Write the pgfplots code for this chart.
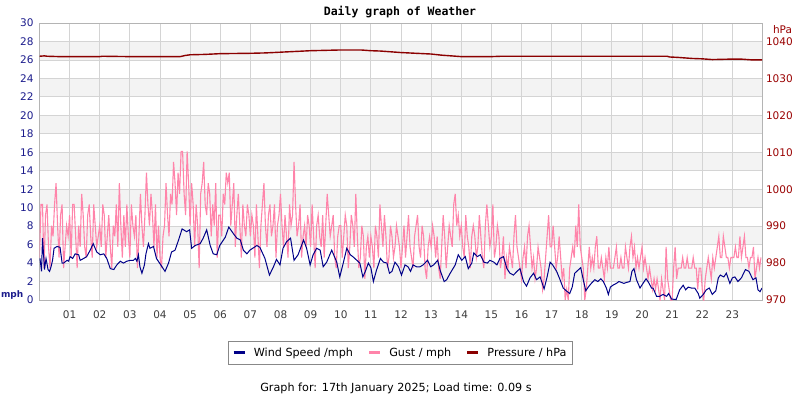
\documentclass[border=0pt]{standalone}
\usepackage{fontspec}
\setmainfont{DejaVu Sans}
\setmonofont{DejaVu Sans Mono}
\usepackage{pgfplots}
\pgfplotsset{compat=1.18}

\definecolor{windc}{HTML}{000088}
\definecolor{gustc}{HTML}{FF84AA}
\definecolor{presc}{HTML}{8B0000}
\definecolor{gridc}{HTML}{D4D4D4}
\definecolor{bandc}{HTML}{F3F3F3}
\definecolor{leftlab}{HTML}{1C1C8C}
\definecolor{rightlab}{HTML}{990000}
\definecolor{xlab}{HTML}{3C3C3C}
\definecolor{legbox}{HTML}{888888}

\newcommand{\ticksize}{\fontsize{10.5bp}{12bp}\selectfont}
\newcommand{\textsize}{\fontsize{11.2bp}{13bp}\selectfont}
\pgfplotsset{
  frame/.style={at={(39.5bp,-300bp)}, anchor=south west,
    scale only axis, width=723bp, height=277bp, xmin=0, xmax=1440},
}

\begin{document}
\begin{tikzpicture}
\path[use as bounding box] (0,0) rectangle (800bp,-400bp);

% grey bands, drawn first so that the grid lies over them
\begin{axis}[frame, ymin=0, ymax=30, hide axis]
\addplot[fill=bandc, draw=none] coordinates {(0,2)(1440,2)(1440,4)(0,4)} -- cycle;
\addplot[fill=bandc, draw=none] coordinates {(0,6)(1440,6)(1440,8)(0,8)} -- cycle;
\addplot[fill=bandc, draw=none] coordinates {(0,10)(1440,10)(1440,12)(0,12)} -- cycle;
\addplot[fill=bandc, draw=none] coordinates {(0,14)(1440,14)(1440,16)(0,16)} -- cycle;
\addplot[fill=bandc, draw=none] coordinates {(0,18)(1440,18)(1440,20)(0,20)} -- cycle;
\addplot[fill=bandc, draw=none] coordinates {(0,22)(1440,22)(1440,24)(0,24)} -- cycle;
\addplot[fill=bandc, draw=none] coordinates {(0,26)(1440,26)(1440,28)(0,28)} -- cycle;
\end{axis}

% left axis: wind and gust, in minutes of the day
\begin{axis}[
  frame, ymin=0, ymax=30,
  xtick={60,120,180,240,300,360,420,480,540,600,660,720,780,840,900,960,1020,1080,1140,1200,1260,1320,1380},
  xticklabels={01,02,03,04,05,06,07,08,09,10,11,12,13,14,15,16,17,18,19,20,21,22,23},
  ytick={0,2,...,30},
  grid=major, major grid style={gridc, line width=0.8bp},
  major tick length=0pt,
  axis line style={draw=gridc!85!black, line width=0.8bp},
  tick label style={font=\ticksize},
  yticklabel style={text=leftlab, xshift=-2.5bp},
  xticklabel style={text=xlab, yshift=-7.5bp},
  /pgf/number format/assume math mode=true,
]
% gust, every 3 minutes (steps of one knot)
\addplot[gustc, line width=1.1bp] coordinates {
(0,4.6)(3,10.35)(6,10.35)(9,3.45)(12,9.2)(15,10.35)(18,5.75)(21,3.45)(24,8.05)(27,6.9)(30,10.35)(33,12.65)(36,8.05)(39,4.6)(42,9.2)(45,10.35)(48,3.45)(51,5.75)(54,8.05)(57,6.9)
(60,9.2)(63,4.6)(66,10.35)(69,10.35)(72,6.9)(75,3.45)(78,8.05)(81,5.75)(84,11.5)(87,9.2)(90,5.75)(93,4.6)(96,9.2)(99,10.35)(102,6.9)(105,4.6)(108,10.35)(111,8.05)(114,5.75)(117,6.9)
(120,8.05)(123,5.75)(126,10.35)(129,9.2)(132,4.6)(135,6.9)(138,9.2)(141,5.75)(144,3.45)(147,8.05)(150,6.9)(153,10.35)(156,5.75)(159,12.65)(162,8.05)(165,4.6)(168,9.2)(171,5.75)(174,10.35)(177,6.9)
(180,4.6)(183,10.35)(186,8.05)(189,6.9)(192,9.2)(195,3.45)(198,6.9)(201,11.5)(204,8.05)(207,5.75)(210,9.2)(213,13.8)(216,10.35)(219,8.05)(222,11.5)(225,9.2)(228,5.75)(231,10.35)(234,4.6)(237,8.05)
(240,4.6)(243,3.45)(246,6.9)(249,8.05)(252,12.65)(255,9.2)(258,6.9)(261,11.5)(264,10.35)(267,14.95)(270,12.65)(273,9.2)(276,13.8)(279,11.5)(282,16.1)(285,16.1)(288,11.5)(291,9.2)(294,16.1)(297,12.65)
(300,8.05)(303,12.65)(306,10.35)(309,5.75)(312,10.35)(315,8.05)(318,3.45)(321,11.5)(324,12.65)(327,14.95)(330,10.35)(333,9.2)(336,12.65)(339,11.5)(342,6.9)(345,10.35)(348,8.05)(351,12.65)(354,4.6)(357,9.2)
(360,9.2)(363,6.9)(366,11.5)(369,10.35)(372,13.8)(375,12.65)(378,13.8)(381,8.05)(384,10.35)(387,12.65)(390,5.75)(393,9.2)(396,11.5)(399,8.05)(402,4.6)(405,10.35)(408,8.05)(411,6.9)(414,10.35)(417,9.2)
(420,6.9)(423,9.2)(426,8.05)(429,4.6)(432,10.35)(435,6.9)(438,3.45)(441,8.05)(444,10.35)(447,12.65)(450,8.05)(453,5.75)(456,9.2)(459,10.35)(462,6.9)(465,8.05)(468,10.35)(471,4.6)(474,8.05)(477,9.2)
(480,11.5)(483,8.05)(486,5.75)(489,9.2)(492,6.9)(495,4.6)(498,10.35)(501,8.05)(504,9.2)(507,14.95)(510,10.35)(513,6.9)(516,8.05)(519,10.35)(522,4.6)(525,6.9)(528,8.05)(531,5.75)(534,9.2)(537,8.05)
(540,5.75)(543,10.35)(546,6.9)(549,3.45)(552,8.05)(555,9.2)(558,6.9)(561,5.75)(564,9.2)(567,4.6)(570,8.05)(573,11.5)(576,9.2)(579,6.9)(582,8.05)(585,9.2)(588,4.6)(591,3.45)(594,6.9)(597,8.05)
(600,8.05)(603,4.6)(606,6.9)(609,9.2)(612,8.05)(615,3.45)(618,5.75)(621,9.2)(624,8.05)(627,5.75)(630,11.5)(633,6.9)(636,3.45)(639,4.6)(642,8.05)(645,6.9)(648,2.3)(651,5.75)(654,6.9)(657,4.6)
(660,6.9)(663,5.75)(666,3.45)(669,8.05)(672,6.9)(675,4.6)(678,10.35)(681,8.05)(684,5.75)(687,9.2)(690,6.9)(693,3.45)(696,4.6)(699,8.05)(702,6.9)(705,4.6)(708,5.75)(711,8.05)(714,6.9)(717,5.75)
(720,3.45)(723,5.75)(726,8.05)(729,4.6)(732,6.9)(735,9.2)(738,5.75)(741,4.6)(744,3.45)(747,6.9)(750,8.05)(753,9.2)(756,5.75)(759,4.6)(762,8.05)(765,6.9)(768,3.45)(771,2.3)(774,5.75)(777,6.9)
(780,5.75)(783,8.05)(786,6.9)(789,4.6)(792,6.9)(795,3.45)(798,2.3)(801,5.75)(804,9.2)(807,6.9)(810,3.45)(813,5.75)(816,8.05)(819,6.9)(822,5.75)(825,10.35)(828,11.5)(831,8.05)(834,9.2)(837,6.9)
(840,8.05)(843,5.75)(846,4.6)(849,9.2)(852,6.9)(855,5.75)(858,3.45)(861,6.9)(864,8.05)(867,6.9)(870,4.6)(873,5.75)(876,9.2)(879,6.9)(882,4.6)(885,3.45)(888,8.05)(891,10.35)(894,8.05)(897,5.75)
(900,6.9)(903,10.35)(906,4.6)(909,5.75)(912,8.05)(915,6.9)(918,3.45)(921,4.6)(924,6.9)(927,2.3)(930,4.6)(933,3.45)(936,5.75)(939,4.6)(942,3.45)(945,6.9)(948,9.2)(951,5.75)(954,4.6)(957,3.45)
(960,2.3)(963,4.6)(966,5.75)(969,3.45)(972,6.9)(975,8.05)(978,5.75)(981,3.45)(984,4.6)(987,2.3)(990,3.45)(993,5.75)(996,4.6)(999,3.45)(1002,1.15)(1005,2.3)(1008,4.6)(1011,6.9)(1014,9.2)(1017,5.75)
(1020,5.75)(1023,8.05)(1026,5.75)(1029,3.45)(1032,4.6)(1035,6.9)(1038,4.6)(1041,2.3)(1044,3.45)(1047,0)(1050,1.15)(1053,0)(1056,3.45)(1059,4.6)(1062,5.75)(1065,4.6)(1068,8.05)(1071,5.75)(1074,10.35)(1077,5.75)
(1080,4.6)(1083,3.45)(1086,0)(1089,1.15)(1092,3.45)(1095,5.75)(1098,3.45)(1101,4.6)(1104,3.45)(1107,5.75)(1110,6.9)(1113,3.45)(1116,3.45)(1119,4.6)(1122,3.45)(1125,2.3)(1128,4.6)(1131,3.45)(1134,5.75)(1137,3.45)
(1140,3.45)(1143,3.45)(1146,4.6)(1149,5.75)(1152,3.45)(1155,3.45)(1158,4.6)(1161,3.45)(1164,3.45)(1167,5.75)(1170,4.6)(1173,3.45)(1176,5.75)(1179,6.9)(1182,4.6)(1185,5.75)(1188,3.45)(1191,4.6)(1194,3.45)(1197,4.6)
(1200,5.75)(1203,3.45)(1206,4.6)(1209,3.45)(1212,2.3)(1215,3.45)(1218,2.3)(1221,1.15)(1224,2.3)(1227,1.15)(1230,2.3)(1233,1.15)(1236,0)(1239,2.3)(1242,1.15)(1245,0)(1248,5.75)(1251,2.3)(1254,1.15)(1257,0)
(1260,0)(1263,3.45)(1266,5.75)(1269,2.3)(1272,3.45)(1275,3.45)(1278,3.45)(1281,4.6)(1284,3.45)(1287,3.45)(1290,4.6)(1293,3.45)(1296,3.45)(1299,3.45)(1302,4.6)(1305,3.45)(1308,3.45)(1311,1.15)(1314,3.45)(1317,3.45)
(1320,1.15)(1323,0)(1326,2.3)(1329,3.45)(1332,4.6)(1335,3.45)(1338,2.3)(1341,4.6)(1344,3.45)(1347,4.6)(1350,5.75)(1353,6.9)(1356,4.6)(1359,4.6)(1362,6.9)(1365,5.75)(1368,4.6)(1371,4.6)(1374,3.45)(1377,4.6)
(1380,4.6)(1383,4.6)(1386,5.75)(1389,4.6)(1392,4.6)(1395,6.9)(1398,4.6)(1401,5.75)(1404,6.9)(1407,4.6)(1410,4.6)(1413,3.45)(1416,4.6)(1419,4.6)(1422,5.75)(1425,2.3)(1428,3.45)(1431,4.6)(1434,3.45)(1437,4.6)
};

% wind speed
\addplot[windc, line width=1bp] coordinates {
(1,4.5)(4,3.1)(6,6.7)(10,3.3)(13,4.5)(17,3.3)(20,3.1)(23,3.6)(26,4.3)(29,5.6)(35,5.8)(41,5.7)(45,4.0)(48,4.0)(55,4.3)(58,4.2)
(61,4.7)(66,4.5)(71,5.0)(78,4.9)(81,4.3)(88,4.5)(94,4.7)(101,5.4)(107,6.1)(114,5.2)(121,4.9)(128,5.0)(134,4.5)(141,3.4)(148,3.3)
(154,3.8)(161,4.2)(167,4.0)(174,4.2)(181,4.3)(187,4.3)(191,4.5)(194,4.2)(197,4.9)(200,3.6)(204,2.9)(209,3.8)(212,5.0)(217,6.1)
(220,5.6)(227,5.8)(233,4.5)(244,3.6)(250,3.1)(257,4.0)(263,5.2)(270,5.4)(277,6.5)(284,7.7)(293,7.4)(299,7.6)(303,5.6)(310,5.9)
(320,6.1)(326,6.7)(333,7.6)(340,5.9)(346,5.0)(353,4.9)(359,5.9)(370,6.8)(377,7.9)(386,7.2)(393,6.7)(400,6.5)(406,5.4)(413,5.0)
(419,5.4)(433,5.9)(439,5.7)(449,4.5)(458,2.7)(466,3.6)(472,4.4)(479,3.8)(485,5.6)(492,6.3)(500,6.7)(507,4.3)(515,4.9)(526,6.5)
(532,5.6)(539,3.8)(545,4.9)(552,5.6)(559,5.4)(565,3.6)(572,4.1)(582,5.4)(592,4.1)(598,2.5)(605,4.0)(612,5.6)(619,4.9)
(624,4.7)(632,4.3)(638,4.0)(644,2.5)(649,3.1)(655,4.0)(660,3.5)(665,2.0)(671,3.2)(679,4.5)(685,4.1)(692,4.0)(697,2.9)(702,3.1)
(708,4.1)(715,3.6)(721,2.7)(728,3.8)(734,3.6)(739,3.1)(744,3.8)(751,3.6)(758,3.6)(764,3.8)(773,4.3)(779,3.6)(785,3.8)(793,4.3)
(798,3.2)(806,2.0)(811,2.2)(818,2.9)(828,3.8)(834,4.9)(841,4.3)(848,4.7)(854,3.4)(861,4.0)(865,5.1)(872,4.7)(878,4.9)(885,4.1)
(892,4.0)(897,4.3)(905,4.1)(911,3.8)(917,4.5)(924,4.7)(931,3.4)(937,2.9)(944,2.7)(951,3.1)(957,3.4)(964,2.0)(970,1.5)(977,2.4)
(984,2.9)(990,2.2)(997,2.5)(1005,1.2)(1011,2.5)(1017,4.1)(1022,3.8)(1030,3.1)(1036,2.3)(1043,1.3)(1049,1.0)(1056,0.7)(1061,1.4)
(1066,2.9)(1072,3.2)(1078,3.5)(1083,2.2)(1088,1.0)(1093,1.4)(1099,1.8)(1106,2.2)(1112,2.0)(1118,2.3)(1123,2.0)(1129,1.3)
(1133,0.6)(1137,1.4)(1142,1.6)(1149,1.8)(1154,2.0)(1159,1.9)(1164,1.8)(1169,1.9)(1176,2.0)(1180,3.1)(1184,3.4)(1189,2.2)
(1196,1.3)(1202,1.8)(1208,2.3)(1212,2.0)(1219,1.3)(1222,1.3)(1229,0.4)(1235,0.4)(1242,0.6)(1249,0.4)(1253,0.7)(1259,0.1)
(1268,0.05)(1275,1.1)(1282,1.6)(1287,1.1)(1292,1.4)(1298,1.3)(1305,1.3)(1312,0.7)(1315,0.2)(1322,0.6)(1328,1.1)(1334,1.3)
(1340,0.6)(1347,1.0)(1352,2.4)(1356,2.7)(1363,2.5)(1368,2.9)(1375,1.8)(1380,2.4)(1385,2.5)(1391,2.0)(1398,2.4)(1406,3.3)
(1413,3.1)(1421,2.2)(1427,2.4)(1431,1.1)(1435,0.9)(1439,1.3)
};
\end{axis}

% right axis: pressure
\begin{axis}[
  frame, ymin=970, ymax=1045,
  axis x line=none, axis y line*=right,
  ytick={970,980,...,1040},
  major tick length=0pt,
  y axis line style={draw=gridc!85!black, line width=0.8bp},
  yticklabel style={text=rightlab, font=\ticksize, /pgf/number format/1000 sep={}},
  /pgf/number format/assume math mode=true,
  legend columns=-1,
  legend image code/.code={\draw[#1] (0bp,0bp) -- (11bp,0bp);},
  legend style={at={(0.4993,-0.1895)}, anchor=center, draw=legbox, line width=0.8bp,
    font=\textsize, inner xsep=4.5bp, inner ysep=4.5bp,
    /tikz/every odd column/.append style={column sep=6bp},
    /tikz/every even column/.append style={column sep=13bp}},
]
\addlegendimage{windc, line width=2.2bp}\addlegendentry{Wind Speed /mph}
\addlegendimage{gustc, line width=2.2bp}\addlegendentry{Gust / mph}
\addlegendimage{presc, line width=2.2bp}\addlegendentry{Pressure / hPa}
\addplot[presc, line width=1.4bp, forget plot] coordinates {
(0,1036.0)(10,1036.1)(15,1036.0)(40,1035.9)(120,1035.9)(125,1036.0)(180,1035.9)(280,1035.9)(290,1036.2)(300,1036.4)
(330,1036.5)(360,1036.7)(420,1036.8)(450,1036.9)(480,1037.1)(510,1037.3)(540,1037.5)(570,1037.6)(600,1037.7)(640,1037.7)
(660,1037.5)(680,1037.4)(700,1037.2)(720,1037.0)(750,1036.8)(780,1036.6)(800,1036.3)(820,1036.1)(840,1035.9)(900,1035.9)
(920,1036.0)(1000,1036.0)(1100,1036.0)(1200,1036.0)(1250,1036.0)(1255,1035.8)(1270,1035.7)(1300,1035.4)(1320,1035.3)
(1340,1035.1)(1370,1035.2)(1400,1035.2)(1420,1035.0)(1439,1035.0)
};
\end{axis}

\node[font=\ttfamily\bfseries\fontsize{11.5bp}{13bp}\selectfont] at (400bp,-12.5bp) {Daily graph of Weather};
\node[font=\bfseries\fontsize{9bp}{11bp}\selectfont, text=leftlab] at (12.2bp,-295bp) {mph};
\node[font=\ticksize, text=rightlab] at (782.5bp,-29.5bp) {hPa};
\node[font=\textsize] at (396bp,-388bp) {Graph for: 17th January 2025; Load time: 0.09 s};
\end{tikzpicture}
\end{document}
